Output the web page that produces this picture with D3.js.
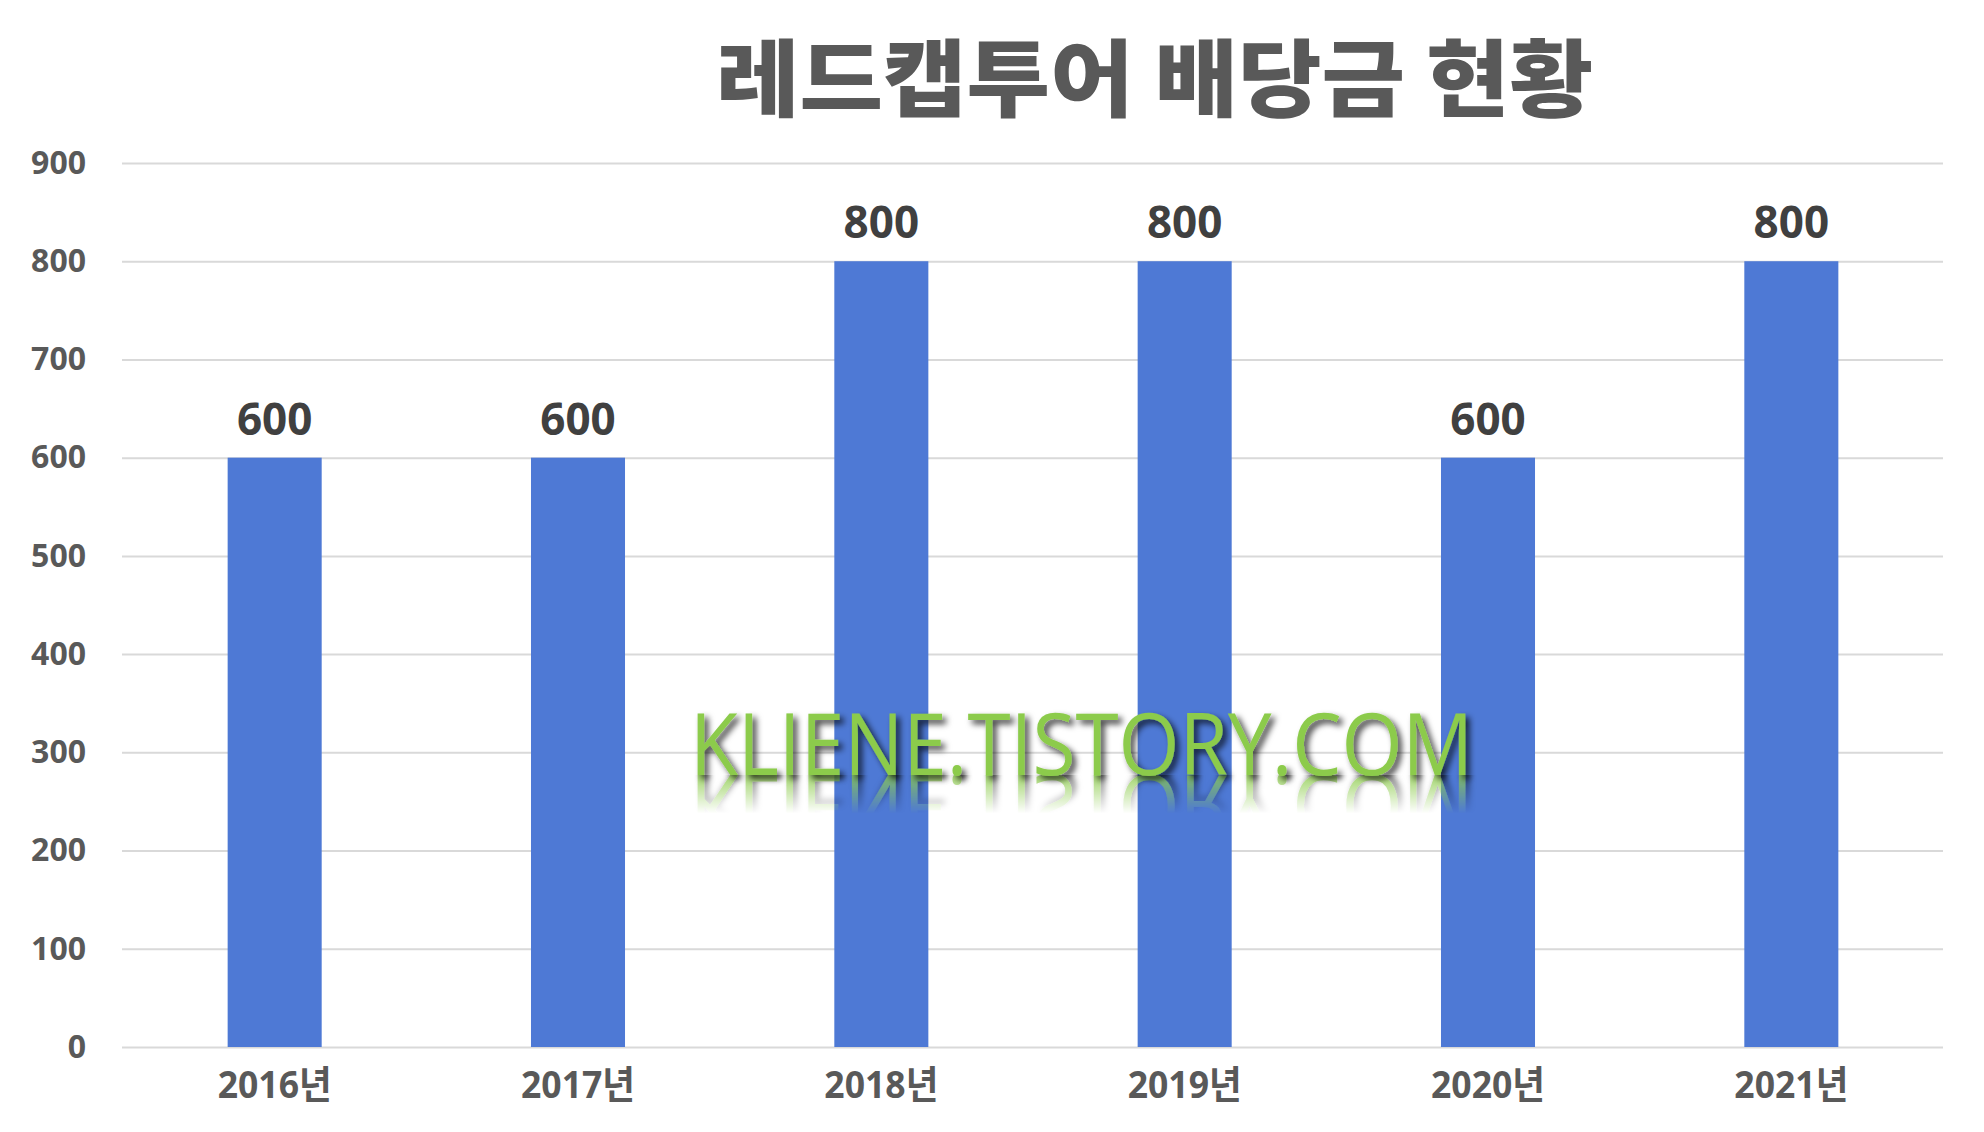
<!DOCTYPE html>
<html>
<head>
<meta charset="utf-8">
<script src="https://cdn.jsdelivr.net/npm/d3@7"></script>
<style>
  html, body { margin: 0; padding: 0; background: #fff; }
  svg { display: block; }
</style>
</head>
<body>
<svg id="chart"></svg>
<script>
const years = ['2016년', '2017년', '2018년', '2019년', '2020년', '2021년'];
const dividends = [600, 600, 800, 800, 600, 800];
const yTicks = [0, 100, 200, 300, 400, 500, 600, 700, 800, 900];
const chartTitle = '레드캡투어 배당금 현황';
const watermark = 'KLIENE.TISTORY.COM';

const width = 1984;
const height = 1132;
const margin = { top: 163, right: 41, bottom: 85, left: 122 };

const svg = d3.select('#chart')
  .attr('width', width)
  .attr('height', height);

svg.append('rect')
  .attr('width', width)
  .attr('height', height)
  .attr('fill', '#fff');

const data = years.map((y, i) => ({ year: y, value: dividends[i] }));

const xScale = d3.scaleBand()
  .domain(years)
  .range([123, 1943])
  .paddingInner(0.69)
  .paddingOuter(0.345);

const yScale = d3.scaleLinear()
  .domain([0, 900])
  .range([height - margin.bottom, margin.top]);

// gridlines + y labels
const yAxis = d3.axisLeft(yScale)
  .tickValues(yTicks)
  .tickSize(-(width - margin.right - margin.left))
  .tickPadding(36);

const yG = svg.append('g')
  .attr('transform', `translate(${margin.left},0)`)
  .call(yAxis);

yG.select('.domain').remove();
yG.selectAll('.tick line')
  .attr('stroke', '#d9d9d9')
  .attr('stroke-width', 2);
yG.selectAll('.tick text')
  .attr('fill', '#595959')
  .style('font-family', '"Noto Sans", "Open Sans", sans-serif')
  .style('font-weight', 700)
  .style('font-size', '32px');

// bars
svg.selectAll('rect.bar')
  .data(data)
  .enter()
  .append('rect')
  .attr('class', 'bar')
  .attr('x', d => xScale(d.year))
  .attr('y', d => yScale(d.value))
  .attr('width', xScale.bandwidth())
  .attr('height', d => yScale(0) - yScale(d.value))
  .attr('fill', '#4e79d5');

// value labels
svg.selectAll('text.value')
  .data(data)
  .enter()
  .append('text')
  .attr('class', 'value')
  .attr('x', d => xScale(d.year) + xScale.bandwidth() / 2)
  .attr('y', d => yScale(d.value) - 23)
  .attr('text-anchor', 'middle')
  .attr('fill', '#404040')
  .style('font-family', '"Noto Sans", "Open Sans", sans-serif')
  .style('font-weight', 700)
  .style('font-size', '44px')
  .text(d => d.value);

// x labels (narrow face in the original, squeeze to fit)
const xAxis = d3.axisBottom(xScale).tickSize(0).tickPadding(0);
const xG = svg.append('g')
  .attr('transform', `translate(0,${yScale(0)})`)
  .call(xAxis);
xG.select('.domain').remove();
xG.selectAll('.tick text')
  .attr('y', 38)
  .attr('dy', '0.35em')
  .attr('x', -57)
  .attr('text-anchor', 'start')
  .attr('textLength', 114)
  .attr('lengthAdjust', 'spacingAndGlyphs')
  .attr('fill', '#595959')
  .style('font-family', '"Noto Sans", "Noto Sans CJK KR", sans-serif')
  .style('font-weight', 700)
  .style('font-size', '38px');

// title
svg.append('text')
  .attr('x', 716)
  .attr('y', 110)
  .attr('textLength', 877)
  .attr('lengthAdjust', 'spacingAndGlyphs')
  .attr('fill', '#595959')
  .style('font-family', '"Noto Sans CJK KR", sans-serif')
  .style('font-weight', 900)
  .style('font-size', '84px')
  .text(chartTitle);

// watermark with shadow and reflection
const defs = svg.append('defs');
const shadow = defs.append('filter')
  .attr('id', 'wmShadow')
  .attr('x', '-10%').attr('y', '-30%')
  .attr('width', '120%').attr('height', '160%');
shadow.append('feDropShadow')
  .attr('dx', 4).attr('dy', 4)
  .attr('stdDeviation', 3)
  .attr('flood-color', '#000')
  .attr('flood-opacity', 0.75);

const fade = defs.append('linearGradient')
  .attr('id', 'fadeGrad')
  .attr('x1', 0).attr('y1', 0).attr('x2', 0).attr('y2', 1);
fade.append('stop').attr('offset', '0%').attr('stop-color', '#fff').attr('stop-opacity', 0.8);
fade.append('stop').attr('offset', '55%').attr('stop-color', '#fff').attr('stop-opacity', 0);

defs.append('mask')
  .attr('id', 'fadeMask')
  .attr('maskUnits', 'userSpaceOnUse')
  .attr('x', 680).attr('y', 775).attr('width', 820).attr('height', 70)
  .append('rect')
  .attr('x', 680).attr('y', 775).attr('width', 820).attr('height', 70)
  .attr('fill', 'url(#fadeGrad)');

const wmBase = 775;

const wm = svg.append('text')
  .attr('id', 'wm')
  .attr('x', 690)
  .attr('y', wmBase)
  .attr('textLength', 783)
  .attr('lengthAdjust', 'spacingAndGlyphs')
  .attr('fill', '#8ccb4c')
  .attr('filter', 'url(#wmShadow)')
  .style('font-family', '"Open Sans", "Noto Sans", sans-serif')
  .style('font-weight', 400)
  .style('font-size', '86px')
  .text(watermark);

// mirrored copy drawn by reference, not as a second text
svg.insert('g', '#wm')
  .attr('mask', 'url(#fadeMask)')
  .append('use')
  .attr('href', '#wm')
  .attr('transform', `translate(0,${2 * wmBase}) scale(1,-1)`);
</script>
</body>
</html>
